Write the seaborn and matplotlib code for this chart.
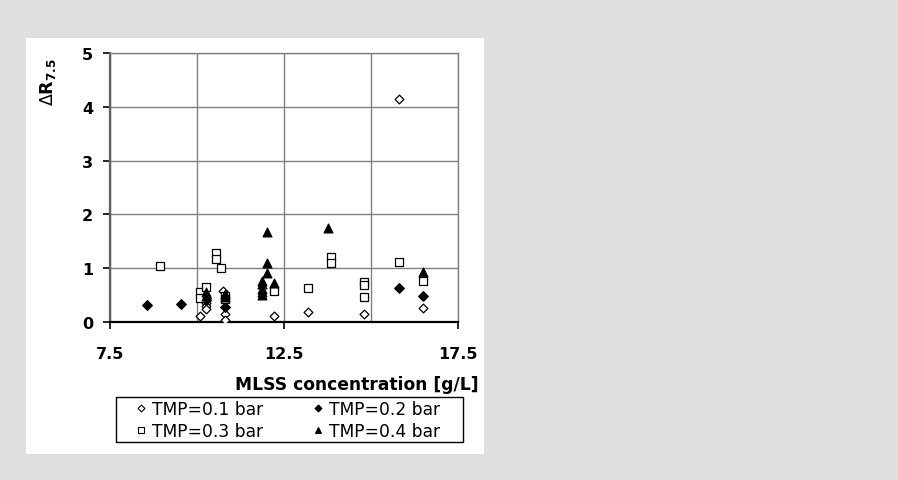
import matplotlib
matplotlib.use("Agg")
import matplotlib.pyplot as plt
from matplotlib.patches import Rectangle
from matplotlib.lines import Line2D
from matplotlib.ticker import FixedLocator
import seaborn as sns
import pandas as pd

# MLSS concentration [g/L] and Delta R7.5 for each transmembrane pressure
tmp01_x = [10.1, 10.25, 10.25, 10.25, 10.75, 10.8, 10.8, 12.2, 13.2, 14.8, 15.8, 16.5]
tmp01_y = [0.12, 0.35, 0.30, 0.25, 0.57, 0.15, 0.04, 0.11, 0.19, 0.15, 4.15, 0.26]

tmp02_x = [8.55, 9.55, 10.25, 10.25, 10.8, 15.8, 16.5]
tmp02_y = [0.32, 0.34, 0.45, 0.40, 0.28, 0.64, 0.48]

tmp03_x = [8.95, 10.1, 10.1, 10.25, 10.55, 10.55, 10.7, 10.8, 10.8, 12.2,
           13.2, 13.85, 13.85, 14.8, 14.8, 14.8, 15.8, 16.5]
tmp03_y = [1.04, 0.55, 0.45, 0.65, 1.28, 1.18, 1.01, 0.48, 0.42, 0.57,
           0.64, 1.20, 1.09, 0.74, 0.69, 0.47, 1.12, 0.77]

tmp04_x = [10.25, 10.25, 10.8, 10.8, 11.87, 11.87, 11.87, 11.87, 11.87,
           12.0, 12.0, 12.0, 12.2, 13.75, 16.5]
tmp04_y = [0.55, 0.48, 0.52, 0.46, 0.77, 0.70, 0.62, 0.55, 0.50,
           1.67, 1.09, 0.91, 0.72, 1.74, 0.93]

series_labels = ["TMP=0.1 bar", "TMP=0.2 bar", "TMP=0.3 bar", "TMP=0.4 bar"]
x_ticks = [7.5, 12.5, 17.5]
x_ticklabels = ["7.5", "12.5", "17.5"]
y_ticks = [0, 1, 2, 3, 4, 5]

sns.set_style("white")
plt.rcParams["font.family"] = ["DejaVu Sans"]
plt.rcParams["mathtext.fontset"] = "dejavusans"
for key in ["text.color", "axes.labelcolor", "xtick.color", "ytick.color"]:
    plt.rcParams[key] = "black"

W, H = 898, 481
fig = plt.figure(figsize=(W / 100, H / 100), dpi=100, facecolor="#dfdfdf")

# white chart panel behind the axes
fig.patches.append(Rectangle((26 / W, 1 - 455 / H), 458 / W, 416 / H,
                             transform=fig.transFigure, facecolor="white",
                             edgecolor="none", zorder=-5))

ax = fig.add_axes([110 / W, 1 - 323 / H, 348 / W, 269 / H])
ax.set_zorder(1)
ax.set_facecolor("white")

styles = [
    dict(x=tmp01_x, y=tmp01_y, marker="D", s=20, fc="white", ec="black"),
    dict(x=tmp02_x, y=tmp02_y, marker="D", s=24, fc="black", ec="black"),
    dict(x=tmp03_x, y=tmp03_y, marker="s", s=36, fc="white", ec="black"),
    dict(x=tmp04_x, y=tmp04_y, marker="^", s=40, fc="black", ec="black"),
]
order = [2, 0, 1, 3]
for i in order:
    st = styles[i]
    df = pd.DataFrame({"x": st["x"], "y": st["y"]})
    sns.scatterplot(data=df, x="x", y="y", ax=ax, marker=st["marker"], s=st["s"],
                    color=st["fc"], edgecolor=st["ec"], linewidth=0.9,
                    zorder=3 + i, legend=False)

ax.set_xlim(7.5, 17.5)
ax.set_ylim(0, 5)

# gridlines every 2.5 on x, every 1 on y
ax.xaxis.set_major_locator(FixedLocator(x_ticks))
ax.xaxis.set_minor_locator(FixedLocator([10, 15]))
ax.set_xticklabels(x_ticklabels)
ax.set_yticks(y_ticks)
ax.grid(True, which="both", color="#808080", linewidth=1.0, zorder=1)
ax.set_axisbelow(True)

for side in ["top", "right"]:
    ax.spines[side].set_visible(True)
    ax.spines[side].set_color("#808080")
    ax.spines[side].set_linewidth(1.0)
ax.spines["left"].set_color("#606060")
ax.spines["left"].set_linewidth(1.6)
ax.spines["bottom"].set_color("black")
ax.spines["bottom"].set_linewidth(1.6)

ax.tick_params(axis="x", which="major", direction="out", length=5, width=1.2,
               color="black", bottom=True, pad=12, labelsize=11.5)
ax.tick_params(axis="x", which="minor", length=0)
ax.tick_params(axis="y", direction="out", length=5, width=1.2, color="black",
               left=True, pad=7, labelsize=11.5)
for lab in ax.get_xticklabels() + ax.get_yticklabels():
    lab.set_fontweight("bold")

ax.set_xlabel("MLSS concentration [g/L]", fontsize=12.3, fontweight="bold",
              loc="right")
ax.xaxis.set_label_coords(1.058, -0.197)
ax.set_ylabel(r"$\Delta$R$_{\mathbf{7.5}}$", fontsize=12.5, fontweight="bold")
ax.yaxis.label.set(ha="center", va="center", rotation_mode="default")
ax.yaxis.set_label_coords(-0.178, 0.895)

# legend box
fig.patches.append(Rectangle((116 / W, 1 - 443 / H), 347 / W, 45 / H,
                             transform=fig.transFigure, facecolor="white",
                             edgecolor="black", linewidth=1.0, zorder=2))

handles = [
    Line2D([], [], ls="none", marker="D", ms=3.5, mfc="white", mec="black", mew=0.8),
    Line2D([], [], ls="none", marker="D", ms=3.5, mfc="black", mec="black", mew=0.8),
    Line2D([], [], ls="none", marker="s", ms=4, mfc="white", mec="black", mew=0.8),
    Line2D([], [], ls="none", marker="^", ms=4.5, mfc="black", mec="black", mew=0.8),
]
# legend fills column by column, so interleave to read row-wise
leg_order = [0, 2, 1, 3]
leg = fig.legend([handles[i] for i in leg_order],
                 [series_labels[i] for i in leg_order],
                 ncol=2, loc="center",
                 bbox_to_anchor=(288 / W, 1 - 421 / H),
                 frameon=False, fontsize=12.3, handlelength=0.6,
                 handletextpad=0.35, labelspacing=0.22, borderpad=0.0,
                 columnspacing=2.9)
leg.set_zorder(3)

fig.savefig("out.png", dpi=100, facecolor=fig.get_facecolor())
